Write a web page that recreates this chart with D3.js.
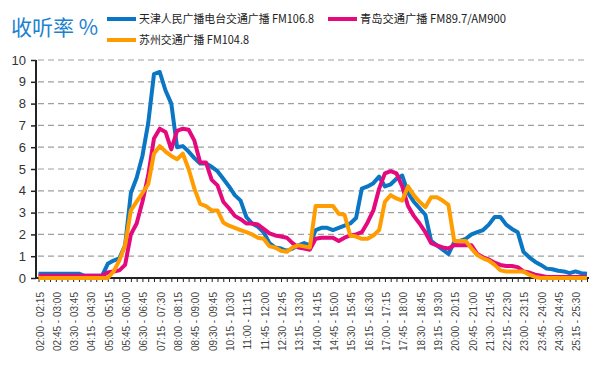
<!DOCTYPE html>
<html>
<head>
<meta charset="utf-8">
<script src="https://cdn.jsdelivr.net/npm/d3@7"></script>
<style>
  body { margin: 0; background: #fff; }
  svg { display: block; font-family: 'Liberation Sans', Arial, sans-serif; }
  .cjk { font-family: 'Noto Sans CJK SC', sans-serif; }
</style>
</head>
<body>
<div id="chart"></div>
<script>
// Data: listening rate (%) per 15-minute slot, 02:00 - 25:45 (96 slots)
const tianjin = [
  0.2, 0.2, 0.2, 0.2, 0.2, 0.2, 0.2, 0.2, 0.1, 0.1, 0.1, 0.1,
  0.65, 0.8, 0.9, 1.5, 3.9, 4.6, 5.6, 7.1, 9.35, 9.45, 8.6, 8.0,
  6.0, 6.05, 5.8, 5.5, 5.25, 5.25, 5.1, 4.9, 4.55, 4.2, 3.8, 3.55,
  2.8, 2.5, 2.35, 2.1, 1.6, 1.4, 1.35, 1.25, 1.35, 1.5, 1.6, 1.5,
  2.2, 2.3, 2.3, 2.2, 2.3, 2.4, 2.5, 2.75, 4.1, 4.2, 4.35, 4.65,
  4.2, 4.3, 4.55, 4.7, 3.9, 3.5, 3.2, 2.9, 1.7, 1.5, 1.3, 1.1,
  1.65, 1.7, 1.8, 2.0, 2.1, 2.2, 2.45, 2.8, 2.8, 2.45, 2.25, 2.1,
  1.2, 0.95, 0.75, 0.6, 0.43, 0.4, 0.33, 0.3, 0.22, 0.3, 0.22, 0.2,
];
const qingdao = [
  0.1, 0.1, 0.1, 0.1, 0.1, 0.1, 0.1, 0.1, 0.1, 0.1, 0.1, 0.1,
  0.25, 0.3, 0.35, 0.6, 2.0, 2.5, 3.5, 4.7, 6.4, 6.85, 6.7, 5.9,
  6.75, 6.85, 6.8, 6.3, 5.3, 5.3, 4.5, 4.25, 3.5, 3.2, 2.85, 2.7,
  2.5, 2.5, 2.45, 2.25, 2.05, 1.95, 1.9, 1.85, 1.6, 1.4, 1.35, 1.3,
  1.8, 1.85, 1.85, 1.85, 1.7, 1.85, 1.95, 2.0, 2.1, 2.55, 3.1, 4.1,
  4.8, 4.9, 4.8, 4.2, 3.3, 2.85, 2.5, 2.1, 1.6, 1.5, 1.4, 1.35,
  1.5, 1.5, 1.5, 1.5, 1.1, 0.95, 0.85, 0.7, 0.6, 0.55, 0.55, 0.5,
  0.3, 0.25, 0.15, 0.1, 0.05, 0.05, 0.05, 0.05, 0.05, 0.05, 0.05, 0.05,
];
const suzhou = [
  0, 0, 0, 0, 0, 0, 0, 0, 0, 0, 0, 0,
  0, 0.3, 0.8, 1.5, 3.1, 3.5, 3.9, 4.3, 5.7, 6.05, 5.8, 5.6,
  5.45, 5.7, 5.0, 4.1, 3.4, 3.3, 3.1, 3.1, 2.55, 2.4, 2.3, 2.2,
  2.1, 2.0, 1.85, 1.8, 1.45, 1.4, 1.25, 1.2, 1.4, 1.5, 1.45, 1.4,
  3.3, 3.3, 3.3, 3.3, 2.95, 2.9, 1.95, 1.9, 1.8, 1.8, 1.95, 2.2,
  3.5, 3.8, 3.65, 3.55, 4.2, 3.8, 3.5, 3.25, 3.7, 3.7, 3.55, 3.35,
  1.7, 1.7, 1.7, 1.35, 1.05, 0.9, 0.8, 0.6, 0.35, 0.3, 0.3, 0.3,
  0.3, 0.15, 0.05, 0, 0, 0, 0, 0, 0, 0, 0, 0,
];

// every third slot is labelled
const tickLabels = [
  '02:00 - 02:15', '02:45 - 03:00', '03:30 - 03:45', '04:15 - 04:30',
  '05:00 - 05:15', '05:45 - 06:00', '06:30 - 06:45', '07:15 - 07:30',
  '08:00 - 08:15', '08:45 - 09:00', '09:30 - 09:45', '10:15 - 10:30',
  '11:00 - 11:15', '11:45 - 12:00', '12:30 - 12:45', '13:15 - 13:30',
  '14:00 - 14:15', '14:45 - 15:00', '15:30 - 15:45', '16:15 - 16:30',
  '17:00 - 17:15', '17:45 - 18:00', '18:30 - 18:45', '19:15 - 19:30',
  '20:00 - 20:15', '20:45 - 21:00', '21:30 - 21:45', '22:15 - 22:30',
  '23:00 - 23:15', '23:45 - 24:00', '24:30 - 24:45', '25:15 - 25:30',
];
const yTicks = [0, 1, 2, 3, 4, 5, 6, 7, 8, 9, 10];

const seriesNames = ['天津人民广播电台交通广播 FM106.8', '青岛交通广播 FM89.7/AM900', '苏州交通广播 FM104.8'];
const seriesColors = ['#0a76c4', '#e4097d', '#ff9c00'];

const width = 600;
const height = 377;

const svg = d3.select('#chart')
  .append('svg')
  .attr('width', width)
  .attr('height', height);

const slots = d3.range(tianjin.length);
const x = d3.scalePoint(slots, [38.5, 587]);
const y = d3.scaleLinear([0, 10], [278, 60]);

// grid lines
svg.append('g')
  .selectAll('line')
  .data(yTicks.filter((d) => d > 0))
  .join('line')
  .attr('x1', 38)
  .attr('x2', 584)
  .attr('y1', (d) => y(d))
  .attr('y2', (d) => y(d))
  .attr('stroke', '#a0a0a0')
  .attr('stroke-width', 1.2)
  .attr('stroke-dasharray', '6,4');

// y axis
const yAxis = svg.append('g')
  .attr('transform', 'translate(36,0)')
  .call(d3.axisLeft(y).tickValues(yTicks).tickSize(5).tickFormat(d3.format('d')));
yAxis.select('.domain').attr('stroke', '#222').attr('stroke-width', 2).attr('d', `M0,${y(10)}V${y(0)}`);
yAxis.selectAll('.tick line').attr('stroke', '#222').attr('stroke-width', 1.5);
yAxis.selectAll('.tick text')
  .attr('x', -10)
  .attr('fill', '#333')
  .style('font-size', '13px');

// x axis
const xAxis = svg.append('g')
  .attr('transform', `translate(0,${y(0)})`)
  .call(d3.axisBottom(x).tickSize(4).tickSizeOuter(0)
    .tickFormat((d) => (d % 3 === 0 ? tickLabels[d / 3] : '')));
xAxis.select('.domain').attr('stroke', '#222').attr('stroke-width', 2).attr('d', 'M36,0H589');
xAxis.selectAll('.tick line').attr('stroke', '#222').attr('stroke-width', 1);
xAxis.selectAll('.tick text')
  .attr('fill', '#444')
  .style('font-size', '10px')
  .attr('text-anchor', 'end')
  .attr('transform', 'rotate(-90)')
  .attr('x', -14)
  .attr('y', 1)
  .attr('dy', '0.35em');

// lines
const line = d3.line()
  .x((d, i) => x(i))
  .y((d) => y(d));

svg.append('g')
  .selectAll('path')
  .data([tianjin, qingdao, suzhou])
  .join('path')
  .attr('d', line)
  .attr('fill', 'none')
  .attr('stroke', (d, i) => seriesColors[i])
  .attr('stroke-width', 4)
  .attr('stroke-linejoin', 'round');

// title
svg.append('text')
  .attr('class', 'cjk')
  .attr('x', 11)
  .attr('y', 35)
  .attr('fill', '#1c82cf')
  .style('font-size', '21px')
  .text('收听率 %');

// legend
const legendPos = [[107, 19, 175], [328, 19, 146], [107, 40, 110]];
const legend = svg.append('g')
  .selectAll('g')
  .data(seriesNames)
  .join('g')
  .attr('transform', (d, i) => `translate(${legendPos[i][0]},${legendPos[i][1]})`);

legend.append('line')
  .attr('x1', 0)
  .attr('x2', 29)
  .attr('stroke', (d, i) => seriesColors[i])
  .attr('stroke-width', 4);

legend.append('text')
  .attr('class', 'cjk')
  .attr('x', 32)
  .attr('dy', '0.36em')
  .attr('fill', '#222')
  .style('font-size', '11.5px')
  .attr('textLength', (d, i) => legendPos[i][2])
  .attr('lengthAdjust', 'spacingAndGlyphs')
  .text((d) => d);
</script>
</body>
</html>
